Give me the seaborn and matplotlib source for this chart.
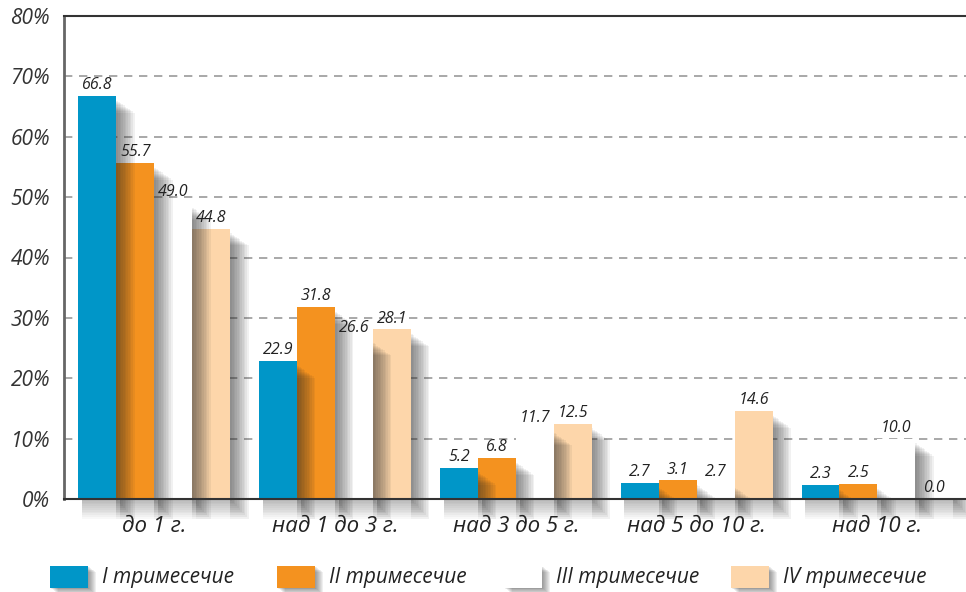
import matplotlib
matplotlib.use("Agg")
import matplotlib.pyplot as plt
from matplotlib.patches import Rectangle
import seaborn as sns
import pandas as pd

# Loan terms and the share of loans per quarter (%)
categories = ["до 1 г.", "над 1 до 3 г.", "над 3 до 5 г.", "над 5 до 10 г.", "над 10 г."]
quarters = ["I тримесечие", "II тримесечие", "III тримесечие", "IV тримесечие"]
q1 = [66.8, 22.9, 5.2, 2.7, 2.3]
q2 = [55.7, 31.8, 6.8, 3.1, 2.5]
q3 = [49.0, 26.6, 11.7, 2.7, 10.0]
q4 = [44.8, 28.1, 12.5, 14.6, 0.0]
y_ticks = [0, 10, 20, 30, 40, 50, 60, 70, 80]

colors = ["#0096C8", "#F4921F", "#FFFFFF", "#FDD6AA"]

rows = []
for q, vals in zip(quarters, [q1, q2, q3, q4]):
    for c, v in zip(categories, vals):
        rows.append({"Срок": c, "Тримесечие": q, "Дял": v})
df = pd.DataFrame(rows)

sns.set_theme(style="white")
plt.rcParams["font.family"] = ["Open Sans", "DejaVu Sans"]

W, H = 966, 592
fig = plt.figure(figsize=(W / 100, H / 100), dpi=100)
ax = fig.add_axes([64 / W, 1 - 499 / H, 1 - 64 / W, (499 - 16) / H])

sns.barplot(data=df, x="Срок", y="Дял", hue="Тримесечие", order=categories,
            hue_order=quarters, palette=colors, width=0.84, gap=0,
            saturation=1, edgecolor="none", linewidth=0, legend=False, ax=ax, zorder=3)

ax.set_ylim(0, 80)
ax.set_xlim(-0.5, 4.49)

# soft drop shadow to the right of every bar, laid over its neighbour
n_layers = 11
x_step = 0.0092
for patch in list(ax.patches):
    x0 = patch.get_x()
    w = patch.get_width()
    h = patch.get_height()
    x1 = x0 + w
    for k in range(1, n_layers + 1):
        top = max(h - 0.6 - k * 0.2, 0)
        bottom = -k * 0.3
        ax.add_patch(Rectangle((x1, bottom), k * x_step, top - bottom,
                               facecolor="#2a2a2a", edgecolor="none", alpha=0.062,
                               zorder=4, clip_on=False))
        ax.add_patch(Rectangle((x0 + 0.02, bottom), w - 0.02, -bottom,
                               facecolor="#2a2a2a", edgecolor="none", alpha=0.03,
                               zorder=4, clip_on=False))

for cont in ax.containers:
    ax.bar_label(cont, fmt="%.1f", padding=2, fontsize=11.5, fontstyle="italic",
                 color="#222222", zorder=6)

ax.set_yticks(y_ticks)
ax.set_yticklabels([f"{t}%" for t in y_ticks], fontsize=15, fontstyle="italic", color="#333333")
ax.set_xticks(range(len(categories)))
ax.set_xticklabels(categories, fontsize=16, fontstyle="italic", color="#222222")
ax.tick_params(axis="x", length=0, pad=12)
ax.tick_params(axis="y", length=0, pad=10)
ax.set_xlabel("")
ax.set_ylabel("")

for t in y_ticks[1:-1]:
    ax.axhline(t, color="#9a9a9a", linestyle=(0, (5, 4)), linewidth=1.2, zorder=1)

ax.spines["right"].set_visible(False)
ax.spines["left"].set_color("#666666")
ax.spines["left"].set_linewidth(2)
ax.spines["bottom"].set_color("#333333")
ax.spines["bottom"].set_linewidth(1.5)
ax.spines["top"].set_color("#333333")
ax.spines["top"].set_linewidth(1.5)
for s in ax.spines.values():
    s.set_zorder(7)

# legend: colour swatches with soft shadows and italic labels
legend_x = [50, 277, 504, 731]
sw_w, sw_h, sw_top = 38, 22, 566
for lx, c, q in zip(legend_x, colors, quarters):
    for k in range(1, 9):
        fig.add_artist(Rectangle(((lx + k * 1.0) / W, 1 - (sw_top + sw_h + k * 0.7) / H),
                                 sw_w / W, sw_h / H, transform=fig.transFigure,
                                 facecolor="#2a2a2a", edgecolor="none", alpha=0.07, zorder=1))
    fig.add_artist(Rectangle((lx / W, 1 - (sw_top + sw_h) / H), sw_w / W, sw_h / H,
                             transform=fig.transFigure, facecolor=c, edgecolor="none", zorder=2))
    fig.text((lx + 52) / W, 1 - (sw_top + sw_h / 2) / H, q, fontsize=15, fontstyle="italic",
             color="#222222", va="center", ha="left")

fig.savefig("out.png", dpi=100)
